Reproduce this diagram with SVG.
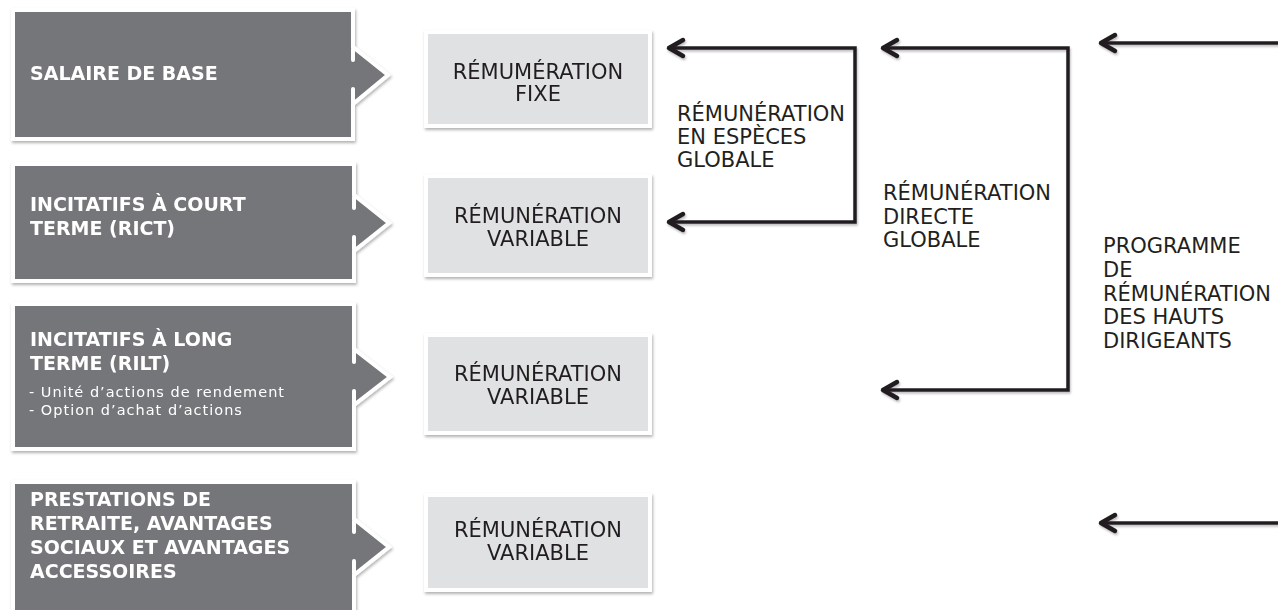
<svg xmlns="http://www.w3.org/2000/svg" width="1278" height="610" viewBox="0 0 1278 610">
<style>
.dark{fill:#75767a;stroke:#ffffff;stroke-width:4;stroke-linejoin:miter}
.stub{stroke:#ffffff;stroke-width:4;stroke-linecap:round}
.light{fill:#e0e1e2;stroke:#ffffff;stroke-width:4}
.h{font-family:"DejaVu Sans",sans-serif;font-weight:bold;font-size:19px;fill:#ffffff}
.s{font-family:"DejaVu Sans",sans-serif;font-size:14.5px;letter-spacing:1px;fill:#ffffff}
.t{font-family:"DejaVu Sans",sans-serif;font-size:21px;fill:#231f20}
.c{text-anchor:middle}
.ln{fill:none;stroke:#231f20;stroke-width:3.5;stroke-linejoin:miter}
</style>
<defs>
<filter id="sh" x="-10%" y="-10%" width="120%" height="130%">
<feDropShadow dx="1" dy="2" stdDeviation="1.5" flood-color="#000" flood-opacity="0.3"/>
</filter>
<filter id="lsh" x="-10%" y="-20%" width="120%" height="140%">
<feDropShadow dx="1" dy="2" stdDeviation="1.2" flood-color="#000" flood-opacity="0.25"/>
</filter>
<marker id="chev" markerUnits="userSpaceOnUse" viewBox="-20 -12 24 24" refX="0" refY="0" markerWidth="24" markerHeight="24" orient="auto-start-reverse">
<path d="M-14,-8 L0,0 L-14,8" fill="none" stroke="#231f20" stroke-width="4.5" stroke-linejoin="round" stroke-linecap="round"/>
</marker>
</defs>
<rect width="1278" height="610" fill="#ffffff"/>

<g id="salaire" filter="url(#sh)">
<path class="dark" d="M13,10 H353 V47 L388,75 L353,104 V139 H13 Z"/>
<line class="stub" x1="353" y1="49" x2="353" y2="60"/>
<line class="stub" x1="353" y1="89" x2="353" y2="102"/>
<text class="h" x="30" y="80">SALAIRE DE BASE</text>
</g>

<g id="rict" filter="url(#sh)">
<path class="dark" d="M13,164 H354 V195 L389,223 L354,251 V281 H13 Z"/>
<line class="stub" x1="354" y1="197" x2="354" y2="208"/>
<line class="stub" x1="354" y1="237" x2="354" y2="249"/>
<text class="h" x="30" y="211">INCITATIFS À COURT</text>
<text class="h" x="30" y="235">TERME (RICT)</text>
</g>

<g id="rilt" filter="url(#sh)">
<path class="dark" d="M13,304 H354 V349 L390,377 L354,405 V449 H13 Z"/>
<line class="stub" x1="354" y1="351" x2="354" y2="362"/>
<line class="stub" x1="354" y1="391" x2="354" y2="403"/>
<text class="h" x="30" y="346">INCITATIFS À LONG</text>
<text class="h" x="30" y="370">TERME (RILT)</text>
<text class="s" x="29" y="397">- Unité d’actions de rendement</text>
<text class="s" x="29" y="415">- Option d’achat d’actions</text>
</g>

<g id="prestations" filter="url(#sh)">
<path class="dark" d="M13,482 H354 V519 L389,547 L354,575 V614 H13 Z"/>
<line class="stub" x1="354" y1="521" x2="354" y2="532"/>
<line class="stub" x1="354" y1="561" x2="354" y2="573"/>
<text class="h" x="30" y="506">PRESTATIONS DE</text>
<text class="h" x="30" y="530">RETRAITE, AVANTAGES</text>
<text class="h" x="30" y="554">SOCIAUX ET AVANTAGES</text>
<text class="h" x="30" y="578">ACCESSOIRES</text>
</g>

<g id="fixe" filter="url(#sh)">
<rect class="light" x="426" y="32" width="224" height="94"/>
<text class="t c" x="538" y="79">RÉMUMÉRATION</text>
<text class="t c" x="538" y="101">FIXE</text>
</g>

<g id="variable1" filter="url(#sh)">
<rect class="light" x="426" y="176" width="224" height="99"/>
<text class="t c" x="538" y="223">RÉMUNÉRATION</text>
<text class="t c" x="538" y="246">VARIABLE</text>
</g>

<g id="variable2" filter="url(#sh)">
<rect class="light" x="426" y="335" width="224" height="98"/>
<text class="t c" x="538" y="381">RÉMUNÉRATION</text>
<text class="t c" x="538" y="404">VARIABLE</text>
</g>

<g id="variable3" filter="url(#sh)">
<rect class="light" x="426" y="495" width="224" height="95"/>
<text class="t c" x="538" y="537">RÉMUNÉRATION</text>
<text class="t c" x="538" y="560">VARIABLE</text>
</g>

<g id="connectors" filter="url(#lsh)">
<path class="ln" d="M669,48 H855 V222 H669" marker-start="url(#chev)" marker-end="url(#chev)"/>
<path class="ln" d="M883,48 H1068 V390 H883" marker-start="url(#chev)" marker-end="url(#chev)"/>
<path class="ln" d="M1290,43 H1101" marker-end="url(#chev)"/>
<path class="ln" d="M1290,523 H1101" marker-end="url(#chev)"/>
</g>

<g id="labels">
<text class="t" x="677" y="121">RÉMUNÉRATION</text>
<text class="t" x="677" y="144">EN ESPÈCES</text>
<text class="t" x="677" y="167">GLOBALE</text>
<text class="t" x="883" y="200">RÉMUNÉRATION</text>
<text class="t" x="883" y="223.5">DIRECTE</text>
<text class="t" x="883" y="247">GLOBALE</text>
<text class="t" x="1103" y="253">PROGRAMME</text>
<text class="t" x="1103" y="277">DE</text>
<text class="t" x="1103" y="300.5">RÉMUNÉRATION</text>
<text class="t" x="1103" y="324">DES HAUTS</text>
<text class="t" x="1103" y="348">DIRIGEANTS</text>
</g>
</svg>
